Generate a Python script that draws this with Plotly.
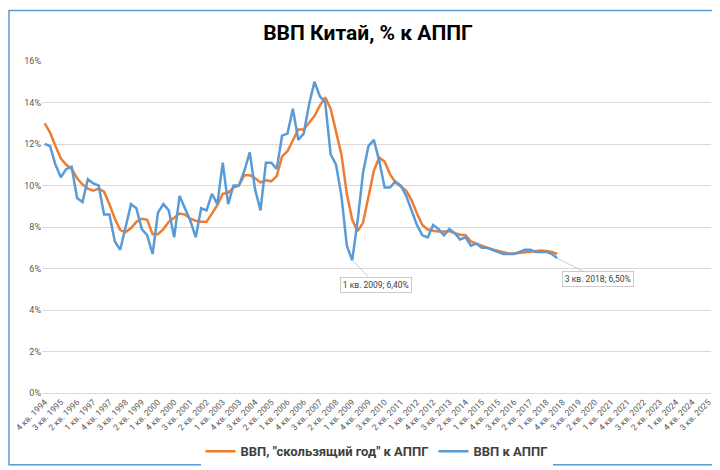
import plotly.graph_objects as go

# Quarter categories from "4 кв. 1994" to "3 кв. 2025"
categories = ["4 кв. 1994"] + [f"{q} кв. {y}" for y in range(1995, 2026) for q in range(1, 5)]
categories = categories[:categories.index("3 кв. 2025") + 1]
tick_labels = categories[::3]

# ВВП к АППГ (quarterly, % y/y), 4 кв. 1994 .. 3 кв. 2018
gdp_yoy = [
    12.0, 11.9, 11.0, 10.4, 10.8, 10.9, 9.4, 9.2, 10.3, 10.1, 10.0, 8.6,
    8.6, 7.3, 6.9, 8.0, 9.1, 8.9, 7.9, 7.6, 6.7, 8.7, 9.1, 8.8,
    7.5, 9.5, 8.9, 8.3, 7.5, 8.9, 8.8, 9.6, 9.1, 11.1, 9.1, 10.0,
    10.0, 10.7, 11.6, 9.8, 8.8, 11.1, 11.1, 10.8, 12.4, 12.5, 13.7, 12.2,
    12.5, 13.9, 15.0, 14.3, 14.0, 11.5, 11.0, 9.5, 7.1, 6.4, 8.3, 10.6,
    11.9, 12.2, 11.2, 9.9, 9.9, 10.2, 10.0, 9.5, 8.8, 8.1, 7.6, 7.5,
    8.1, 7.9, 7.6, 7.9, 7.7, 7.4, 7.5, 7.1, 7.2, 7.0, 7.0, 6.9,
    6.8, 6.7, 6.7, 6.7, 6.8, 6.9, 6.9, 6.8, 6.8, 6.8, 6.7, 6.5,
]

# ВВП, "скользящий год" к АППГ
gdp_rolling = [
    13.0, 12.55, 11.9, 11.3, 11.0, 10.8, 10.35, 10.05, 9.85, 9.75, 9.85, 9.7,
    9.1, 8.4, 7.85, 7.75, 7.95, 8.25, 8.4, 8.35, 7.65, 7.65, 7.9, 8.25,
    8.45, 8.65, 8.6, 8.4, 8.3, 8.25, 8.25, 8.65, 9.05, 9.6, 9.65, 9.9,
    10.0, 10.5, 10.5, 10.35, 10.15, 10.25, 10.2, 10.45, 11.4, 11.65, 12.2, 12.7,
    12.7, 13.0, 13.35, 13.85, 14.25, 13.7, 12.65, 11.5, 9.6, 8.35, 7.8, 8.2,
    9.45, 10.7, 11.35, 11.15, 10.55, 10.15, 9.95, 9.75, 9.3, 8.65, 8.1, 7.88,
    7.82, 7.78, 7.78, 7.8, 7.7, 7.63, 7.6, 7.3, 7.2, 7.08, 7.0, 6.92,
    6.85, 6.77, 6.72, 6.72, 6.75, 6.8, 6.84, 6.87, 6.87, 6.84, 6.8, 6.7,
]

y_ticks = [0, 2, 4, 6, 8, 10, 12, 14, 16]
callouts = ["1 кв. 2009", "3 кв. 2018"]

ORANGE = "#ED7D31"
BLUE = "#5B9BD5"
FONT = "Roboto"

W, H = 720, 470
ML, MR, MT, MB = 34, 17, 53, 75
PW, PH = W - ML - MR, H - MT - MB

x_data = categories[:len(gdp_yoy)]

fig = go.Figure()
fig.add_trace(go.Scatter(
    x=x_data, y=gdp_rolling, mode="lines",
    name='<b>ВВП, "скользящий год" к АППГ</b>',
    line=dict(color=ORANGE, width=2.5),
))
fig.add_trace(go.Scatter(
    x=x_data, y=gdp_yoy, mode="lines",
    name="<b>ВВП к АППГ</b>",
    line=dict(color=BLUE, width=2.5),
))

offsets = {"1 кв. 2009": (24, 25), "3 кв. 2018": (41, 21)}
for c in callouts:
    i = categories.index(c)
    v = gdp_yoy[i]
    ax, ay = offsets[c]
    label = f"{c}; " + f"{v:.2f}".replace(".", ",") + "%"
    fig.add_annotation(
        x=c, y=v, xref="x", yref="y",
        text=label,
        showarrow=True, arrowhead=0, arrowwidth=0.8, arrowcolor="#BFBFBF",
        ax=ax, ay=ay,
        bgcolor="white", bordercolor="#BFBFBF", borderwidth=0.8, borderpad=2,
        font=dict(family=FONT, size=8.5, color="#404040"),
    )

# outer chart border
fig.add_shape(
    type="rect", xref="paper", yref="paper",
    x0=(1 - ML) / PW, x1=1 + (MR - 1) / PW,
    y0=-(MB - 1) / PH, y1=1 + (MT - 1) / PH,
    line=dict(color=BLUE, width=1.5), fillcolor="rgba(0,0,0,0)", layer="below",
)

fig.update_layout(
    width=W, height=H,
    margin=dict(l=ML, r=MR, t=MT, b=MB),
    paper_bgcolor="white", plot_bgcolor="white",
    title=dict(text="<b>ВВП Китай, % к АППГ</b>", x=0.5, xanchor="center",
               y=1 - 25 / H, yanchor="middle",
               font=dict(family=FONT, size=21, color="black")),
    showlegend=True,
    legend=dict(orientation="h", x=0.5, xanchor="center",
                y=-(455 - (H - MB)) / PH, yanchor="middle",
                font=dict(family=FONT, size=13, color="#404040"),
                itemwidth=30),
    xaxis=dict(
        type="category", categoryorder="array", categoryarray=categories,
        range=[-0.5, len(categories) - 0.5],
        tickmode="array", tickvals=tick_labels, ticktext=tick_labels,
        tickangle=-45, tickfont=dict(family=FONT, size=8.5, color="#595959"),
        showgrid=False, showline=True, linecolor="#D9D9D9", linewidth=1,
        ticks="", automargin=False, zeroline=False,
    ),
    yaxis=dict(
        range=[0, 16], tickmode="array", tickvals=y_ticks,
        ticktext=[f"{t}%" for t in y_ticks],
        tickfont=dict(family=FONT, size=9, color="#595959"),
        showgrid=True, gridcolor="#D9D9D9", gridwidth=1,
        zeroline=False, showline=False, ticks="", automargin=False,
    ),
)

fig.write_html("out.html")
